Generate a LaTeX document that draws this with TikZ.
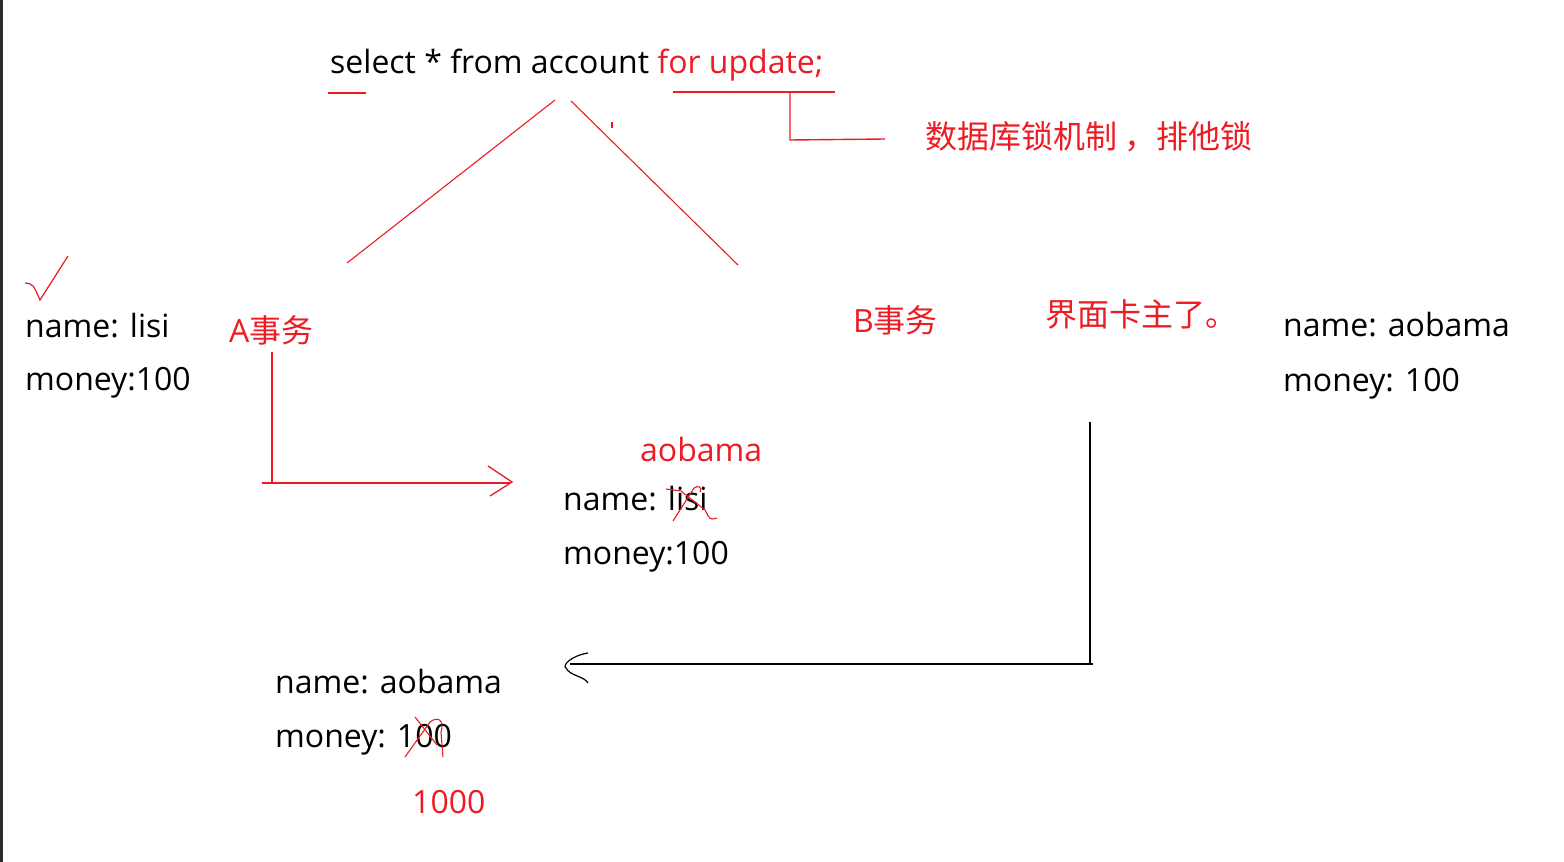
\documentclass[tikz,border=0pt]{standalone}
\usepackage{fontspec}
\setmainfont{Open Sans}
\newfontfamily\cjk{Noto Sans CJK SC}
\definecolor{pred}{HTML}{ED1C24}
\definecolor{frame}{HTML}{2B2B2B}
\begin{document}
\begin{tikzpicture}[x=1pt,y=-1pt,
  txt/.style={anchor=base west,inner sep=0pt,font=\fontsize{32}{38}\selectfont},
  rtxt/.style={txt,text=pred},
  ctxt/.style={anchor=west,inner sep=0pt,text=pred,font=\fontsize{32}{38}\cjk},
  rl/.style={draw=pred,line width=1.4pt},
  bl/.style={draw=black,line width=1.4pt}]
\useasboundingbox (0,0) rectangle (1564,862);
\fill[white] (0,0) rectangle (1564,862);
\fill[frame] (0,0) rectangle (2.5,862);
% top statement
\node[txt] (sql) at (330,73) {select * from account \textcolor{pred}{for update;}};
\node[ctxt] (lock) at (925,137) {数据库锁机制 ，排他锁};
\coordinate (u1a) at (328,93); \coordinate (u1b) at (366,93);
\coordinate (u2a) at (673,92); \coordinate (u2b) at (835,92);
\coordinate (u2c) at (790,92); \coordinate (u2d) at (790,140);
\coordinate (u2e) at (885,139);
\draw[rl] (u1a) -- (u1b);
\draw[rl] (u2a) -- (u2b);
\draw[rl] (u2c) -- (u2d) -- (u2e);
% branches
\coordinate (b1a) at (555,100); \coordinate (b1b) at (347,263);
\coordinate (b2a) at (571,101); \coordinate (b2b) at (738,265);
\coordinate (tk1) at (612,122); \coordinate (tk2) at (612,128);
\draw[rl,line width=1.1pt] (b1a) -- (b1b);
\draw[rl,line width=1.1pt] (b2a) -- (b2b);
\draw[rl,line width=1.1pt] (tk1) -- (tk2);
% left record
\coordinate (ck1) at (25,283); \coordinate (ck2) at (40,300); \coordinate (ck3) at (68,256);
\draw[rl,line width=1.2pt] (ck1) .. controls (33,284) .. (ck2) -- (ck3);
\node[txt] (ln) at (25,337) {name: lisi};
\node[txt] (lm) at (25,390) {money:100};
\node[ctxt] (ta) at (229,330) {{\fontspec{Open Sans}A}事务};
\coordinate (a1) at (272,352); \coordinate (a2) at (272,484);
\coordinate (a3) at (262,483); \coordinate (a4) at (510,483);
\coordinate (ah1) at (488,466); \coordinate (ah2) at (512,482); \coordinate (ah3) at (490,496);
\draw[rl] (a1) -- (a2);
\draw[rl] (a3) -- (a4);
\draw[rl,line width=1.3pt] (ah1) -- (ah2) -- (ah3);
% middle record
\node[rtxt] (ao) at (640,461) {aobama};
\node[txt] (mn) at (563,510) {name: lisi};
\node[txt] (mm) at (563,564) {money:100};
\coordinate (x1) at (673,521); \coordinate (x2) at (694,488);
\coordinate (x3) at (666,489); \coordinate (x4) at (681,491);
\coordinate (x5) at (705,510); \coordinate (x6) at (717,518);
\draw[rl,line width=1.1pt] (x1) -- (x2) .. controls (698,485) and (703,487) .. (700,492);
\draw[rl,line width=1.1pt] (x3) -- (x4) -- (x5) .. controls (710,520) .. (x6);
% right side
\node[ctxt] (tb) at (853,320) {{\fontspec{Open Sans}B}事务};
\node[ctxt] (stk) at (1045,314) {界面卡主了。};
\node[txt] (rn) at (1283,336) {name: aobama};
\node[txt] (rm) at (1283,391) {money: 100};
\coordinate (c1) at (1090,422); \coordinate (c2) at (1090,664);
\coordinate (c3) at (1093,664); \coordinate (c4) at (570,664);
\coordinate (ch1) at (588,653); \coordinate (ch2) at (566,668); \coordinate (ch3) at (588,683);
\draw[bl] (c1) -- (c2);
\draw[bl] (c3) -- (c4);
\draw[bl,line width=1.2pt] (ch1) .. controls (570,656) and (562,666) .. (ch2) .. controls (570,676) and (584,676) .. (ch3);
% bottom record
\node[txt] (bn) at (275,693) {name: aobama};
\node[txt] (bm) at (275,747) {money: 100};
\node[rtxt] (nv) at (412,813) {1000};
\coordinate (y1) at (405,757); \coordinate (y2) at (430,722);
\coordinate (y3) at (443,757); \coordinate (y4) at (415,717); \coordinate (y5) at (437,745);
\draw[rl,line width=1.1pt] (y1) -- (y2) .. controls (436,717) and (445,718) .. (441,732) -- (y3);
\draw[rl,line width=1.1pt] (y4) -- (y5);
\end{tikzpicture}
\end{document}
